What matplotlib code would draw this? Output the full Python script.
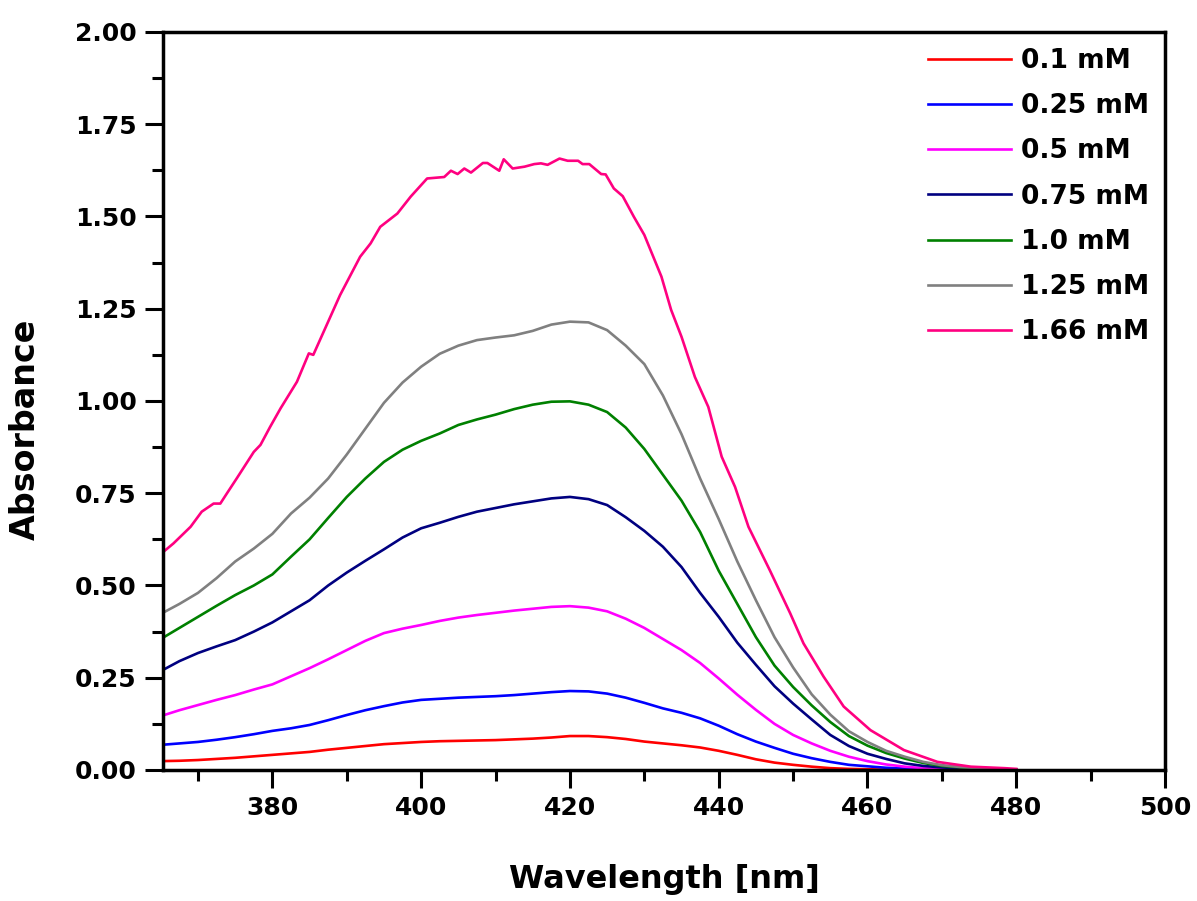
import matplotlib
matplotlib.use("Agg")
import matplotlib.pyplot as plt
from matplotlib.ticker import MultipleLocator, FormatStrFormatter

plt.rcParams['font.family'] = ['DejaVu Sans']
plt.rcParams['font.weight'] = 'bold'

wavelength = [365, 367.5, 370, 372.5, 375, 377.5, 380, 382.5, 385, 387.5, 390, 392.5,
              395, 397.5, 400, 402.5, 405, 407.5, 410, 412.5, 415, 417.5, 420, 422.5,
              425, 427.5, 430, 432.5, 435, 437.5, 440, 442.5, 445, 447.5, 450, 452.5,
              455, 457.5, 460, 462.5, 465, 467.5, 470, 472.5, 475, 477.5, 480]

a_010 = [0.024, 0.025, 0.027, 0.030, 0.033, 0.037, 0.041, 0.045, 0.049, 0.055, 0.060, 0.065,
         0.070, 0.073, 0.076, 0.078, 0.079, 0.080, 0.081, 0.083, 0.085, 0.088, 0.092, 0.092,
         0.089, 0.084, 0.077, 0.072, 0.067, 0.061, 0.052, 0.041, 0.029, 0.020, 0.014, 0.009,
         0.005, 0.003, 0.002, 0.001, 0.001, 0.000, 0.000, 0.000, 0.000, 0.000, 0.000]
a_025 = [0.068, 0.072, 0.076, 0.082, 0.089, 0.097, 0.106, 0.113, 0.122, 0.135, 0.149, 0.162,
         0.173, 0.183, 0.190, 0.193, 0.196, 0.198, 0.200, 0.203, 0.207, 0.211, 0.214, 0.213,
         0.207, 0.196, 0.182, 0.167, 0.155, 0.140, 0.120, 0.097, 0.077, 0.060, 0.044, 0.032,
         0.022, 0.014, 0.010, 0.006, 0.004, 0.002, 0.001, 0.001, 0.000, 0.000, 0.000]
a_050 = [0.146, 0.162, 0.176, 0.190, 0.203, 0.218, 0.232, 0.254, 0.276, 0.300, 0.325, 0.350,
         0.371, 0.383, 0.393, 0.404, 0.413, 0.420, 0.426, 0.432, 0.437, 0.442, 0.444, 0.440,
         0.430, 0.410, 0.385, 0.355, 0.325, 0.290, 0.248, 0.204, 0.163, 0.125, 0.095, 0.072,
         0.052, 0.036, 0.024, 0.015, 0.009, 0.005, 0.003, 0.002, 0.001, 0.000, 0.000]
a_075 = [0.268, 0.295, 0.317, 0.335, 0.352, 0.375, 0.400, 0.430, 0.460, 0.500, 0.535, 0.567,
         0.598, 0.630, 0.655, 0.670, 0.686, 0.700, 0.710, 0.720, 0.728, 0.736, 0.740, 0.734,
         0.718, 0.685, 0.648, 0.605, 0.550, 0.480, 0.415, 0.345, 0.285, 0.227, 0.180, 0.137,
         0.095, 0.065, 0.044, 0.030, 0.018, 0.011, 0.007, 0.004, 0.002, 0.001, 0.000]
a_100 = [0.355, 0.385, 0.415, 0.445, 0.474, 0.500, 0.530, 0.578, 0.625, 0.683, 0.740, 0.790,
         0.835, 0.868, 0.892, 0.912, 0.935, 0.950, 0.963, 0.978, 0.990, 0.998, 0.999, 0.990,
         0.970, 0.928, 0.870, 0.800, 0.730, 0.645, 0.540, 0.450, 0.360, 0.283, 0.225, 0.175,
         0.130, 0.092, 0.066, 0.046, 0.031, 0.019, 0.011, 0.007, 0.004, 0.002, 0.001]
a_125 = [0.423, 0.450, 0.480, 0.520, 0.565, 0.600, 0.640, 0.695, 0.738, 0.790, 0.855, 0.925,
         0.995, 1.050, 1.093, 1.128, 1.150, 1.165, 1.172, 1.178, 1.190, 1.207, 1.215, 1.213,
         1.192, 1.150, 1.100, 1.015, 0.910, 0.790, 0.680, 0.565, 0.460, 0.360, 0.278, 0.205,
         0.150, 0.105, 0.076, 0.052, 0.036, 0.022, 0.013, 0.008, 0.005, 0.003, 0.001]

wavelength_166 = [365.1, 366.7, 369.0, 370.5, 372.1, 373.0, 373.9, 375.2, 377.5, 378.4,
                  379.7, 381.1, 383.3, 384.9, 385.5, 387.3, 389.1, 391.8, 393.2, 394.5,
                  396.8, 398.6, 400.8, 403.1, 404.0, 404.9, 405.8, 406.7, 408.3, 408.9,
                  410.5, 411.1, 412.3, 413.9, 415.2, 416.1, 417.0, 418.6, 419.7, 421.1,
                  421.7, 422.6, 424.2, 424.8, 425.9, 427.1, 428.6, 430.0, 432.3, 433.6,
                  435.0, 436.8, 438.6, 440.4, 442.2, 444.0, 446.9, 449.6, 451.4, 454.1,
                  456.8, 460.4, 464.9, 469.4, 473.9, 478.4, 480.0]
a_166 = [0.587, 0.614, 0.659, 0.700, 0.722, 0.722, 0.750, 0.790, 0.862, 0.881,
         0.930, 0.980, 1.052, 1.129, 1.125, 1.206, 1.287, 1.391, 1.427, 1.472,
         1.508, 1.554, 1.603, 1.607, 1.624, 1.615, 1.630, 1.619, 1.645, 1.645,
         1.624, 1.655, 1.630, 1.635, 1.642, 1.644, 1.640, 1.657, 1.651, 1.651,
         1.642, 1.642, 1.615, 1.614, 1.576, 1.555, 1.499, 1.450, 1.337, 1.247,
         1.174, 1.065, 0.984, 0.849, 0.767, 0.659, 0.540, 0.425, 0.343, 0.253,
         0.172, 0.108, 0.054, 0.022, 0.009, 0.005, 0.003]

labels = ['0.1 mM', '0.25 mM', '0.5 mM', '0.75 mM', '1.0 mM', '1.25 mM', '1.66 mM']
colors = ['#ff0000', '#0000ff', '#ff00ff', '#000080', '#008000', '#808080', '#ff0080']
xs = [wavelength] * 6 + [wavelength_166]
series = [a_010, a_025, a_050, a_075, a_100, a_125, a_166]

fig = plt.figure(figsize=(11.97, 9.01), dpi=100)
ax = fig.add_axes([0.1362, 0.1454, 0.8371, 0.8191])

for x, ys, lab, c in zip(xs, series, labels, colors):
    ax.plot(x, ys, color=c, lw=1.9, label=lab)

ax.set_xlim(365.3, 500)
ax.set_ylim(0, 2.0)
ax.xaxis.set_major_locator(MultipleLocator(20))
ax.xaxis.set_minor_locator(MultipleLocator(10))
ax.yaxis.set_major_locator(MultipleLocator(0.25))
ax.yaxis.set_minor_locator(MultipleLocator(0.125))
ax.yaxis.set_major_formatter(FormatStrFormatter('%.2f'))

for s in ax.spines.values():
    s.set_linewidth(2.5)
ax.tick_params(which='major', direction='out', length=13, width=2.2, labelsize=18, pad=6)
ax.tick_params(which='minor', direction='out', length=8, width=2.2)
ax.tick_params(top=False, right=False, which='both')
for t in ax.get_xticklabels() + ax.get_yticklabels():
    t.set_fontweight('bold')

ax.set_xlabel('Wavelength [nm]', fontsize=23, fontweight='bold')
ax.xaxis.set_label_coords(0.5, -0.128)
ax.set_ylabel('Absorbance', fontsize=24, fontweight='bold')
ax.yaxis.set_label_coords(-0.121, 0.462)

leg = ax.legend(loc='upper right', frameon=False, fontsize=19, handlelength=3.15,
                handletextpad=0.38, labelspacing=0.73, bbox_to_anchor=(1.0, 1.0),
                borderaxespad=0.2)
for t in leg.get_texts():
    t.set_fontweight('bold')

fig.savefig('out.png', dpi=100)
